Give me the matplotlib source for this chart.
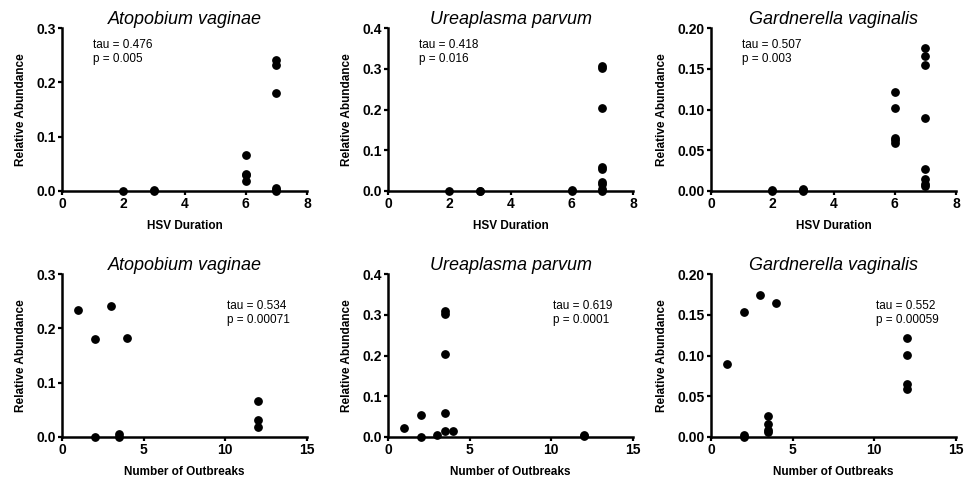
import matplotlib
matplotlib.use('Agg')
import matplotlib.pyplot as plt

plt.rcParams['font.family'] = ['Liberation Sans', 'DejaVu Sans']

titles = ['Atopobium vaginae', 'Ureaplasma parvum', 'Gardnerella vaginalis']

# top row: relative abundance vs HSV duration
hsv_x = [
    [2, 3, 3, 6, 6, 6, 6, 7, 7, 7, 7, 7, 7],
    [2, 3, 3, 6, 6, 7, 7, 7, 7, 7, 7, 7, 7, 7],
    [2, 2, 3, 3, 3, 6, 6, 6, 6, 6, 7, 7, 7, 7, 7, 7, 7, 7],
]
hsv_y = [
    [0.0, 0.0, 0.001, 0.066, 0.032, 0.030, 0.019, 0.242, 0.232, 0.180, 0.005, 0.002, 0.0],
    [0.0, 0.0, 0.001, 0.003, 0.001, 0.306, 0.301, 0.203, 0.059, 0.053, 0.022, 0.016, 0.006, 0.0],
    [0.001, 0.0, 0.002, 0.001, 0.0, 0.122, 0.102, 0.065, 0.062, 0.059,
     0.176, 0.166, 0.155, 0.089, 0.027, 0.015, 0.008, 0.006],
]
hsv_tau = ['tau = 0.476\np = 0.005', 'tau = 0.418\np = 0.016', 'tau = 0.507\np = 0.003']

# bottom row: relative abundance vs number of outbreaks
out_x = [
    [1, 2, 3, 4, 2, 3.5, 3.5, 12, 12, 12],
    [1, 2, 2, 3, 3.5, 3.5, 3.5, 3.5, 3.5, 4, 12, 12],
    [1, 2, 2, 2, 3, 4, 3.5, 3.5, 3.5, 3.5, 12, 12, 12, 12],
]
out_y = [
    [0.233, 0.181, 0.242, 0.182, 0.0, 0.005, 0.0, 0.066, 0.032, 0.018],
    [0.022, 0.054, 0.0, 0.004, 0.308, 0.301, 0.203, 0.059, 0.015, 0.015, 0.004, 0.002],
    [0.089, 0.153, 0.003, 0.0, 0.174, 0.164, 0.026, 0.016, 0.009, 0.006, 0.122, 0.101, 0.065, 0.059],
]
out_tau = ['tau = 0.534\np = 0.00071', 'tau = 0.619\np = 0.0001', 'tau = 0.552\np = 0.00059']

ymax = [0.3, 0.4, 0.20]
yticks = [[0.0, 0.1, 0.2, 0.3], [0.0, 0.1, 0.2, 0.3, 0.4], [0.0, 0.05, 0.10, 0.15, 0.20]]
yfmt = ['%.1f', '%.1f', '%.2f']

W, H = 967, 483
fig = plt.figure(figsize=(W / 100, H / 100), dpi=100)

lefts = [62, 388, 711]
aw = 245
ah = 163


def style(ax, xmax, xticks, xlabel, i):
    ax.set_xlim(0, xmax)
    ax.set_ylim(0, ymax[i])
    ax.set_xticks(xticks)
    ax.set_yticks(yticks[i])
    ax.set_yticklabels([yfmt[i] % v for v in yticks[i]])
    for s in ['top', 'right']:
        ax.spines[s].set_visible(False)
    for s in ['left', 'bottom']:
        ax.spines[s].set_linewidth(1.8)
    ax.tick_params(direction='out', length=3, width=1.6, labelsize=10, pad=1.5)
    for lab in ax.get_xticklabels() + ax.get_yticklabels():
        lab.set_fontweight('bold')
    ax.set_xlabel(xlabel, fontsize=8.5, fontweight='bold', labelpad=6)
    ax.set_ylabel('Relative Abundance', fontsize=8.5, fontweight='bold', labelpad=7)
    ax.set_title(titles[i], fontsize=13, style='italic', pad=3)


for i in range(3):
    ax = fig.add_axes([lefts[i] / W, (H - 191) / H, aw / W, ah / H])
    ax.scatter(hsv_x[i], hsv_y[i], s=28, color='black', clip_on=False, zorder=3)
    style(ax, 8, [0, 2, 4, 6, 8], 'HSV Duration', i)
    ax.text(0.127, 0.93, hsv_tau[i], transform=ax.transAxes, fontsize=8.5,
            va='top', ha='left', linespacing=1.2)

    ax = fig.add_axes([lefts[i] / W, (H - 437) / H, aw / W, ah / H])
    ax.scatter(out_x[i], out_y[i], s=28, color='black', clip_on=False, zorder=3)
    style(ax, 15, [0, 5, 10, 15], 'Number of Outbreaks', i)
    ax.text(0.675, 0.84, out_tau[i], transform=ax.transAxes, fontsize=8.5,
            va='top', ha='left', linespacing=1.2)

fig.savefig('out.png', dpi=100)
